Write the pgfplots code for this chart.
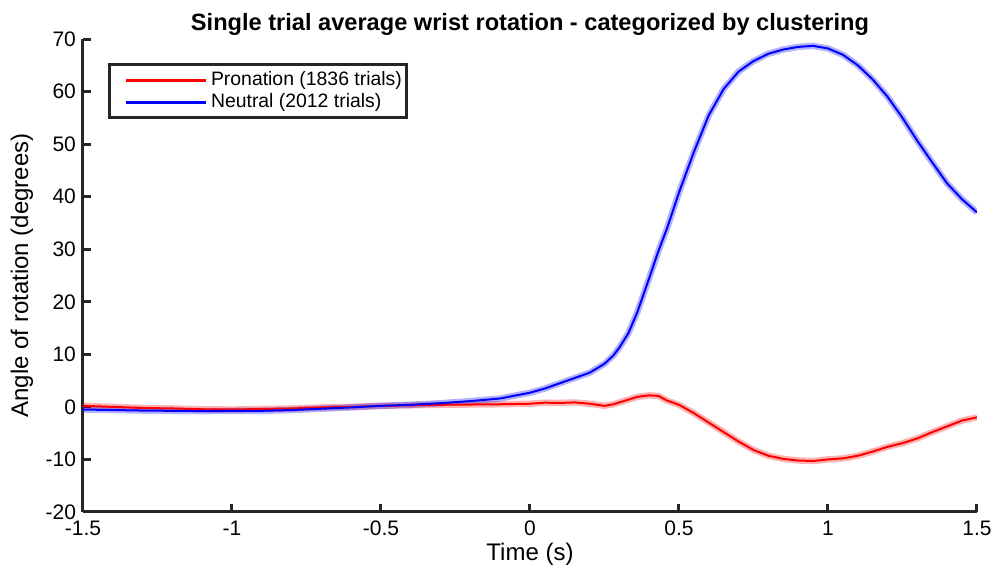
\documentclass[border=0pt]{standalone}
\usepackage{fontspec}
\setmainfont{Liberation Sans}
\usepackage{pgfplots}
\pgfplotsset{compat=1.18}
\definecolor{axcol}{HTML}{262626}
\definecolor{pron}{HTML}{FF0000}
\definecolor{neut}{HTML}{0000FF}

\pgfplotstableread{
x y
-1.5 -0.5
-1.3 -0.7
-1.1 -0.8
-0.9 -0.75
-0.8 -0.6
-0.7 -0.35
-0.6 -0.1
-0.5 0.2
-0.4 0.4
-0.3 0.7
-0.2 1.1
-0.1 1.6
0.0 2.7
0.05 3.5
0.1 4.5
0.15 5.5
0.2 6.5
0.25 8.2
0.28 9.8
0.3 11.3
0.33 14
0.36 18
0.4 24.5
0.43 29.5
0.46 34
0.5 40.8
0.55 48.5
0.6 55.5
0.65 60.5
0.7 63.8
0.75 65.8
0.8 67.2
0.85 68
0.9 68.5
0.95 68.7
1.0 68.2
1.05 67
1.1 65
1.15 62.3
1.2 59
1.25 55
1.3 50.6
1.35 46.5
1.4 42.5
1.45 39.5
1.5 37
}\neutral

\pgfplotstableread{
x y
-1.5 0.2
-1.4 0.0
-1.3 -0.2
-1.2 -0.3
-1.1 -0.45
-1.0 -0.5
-0.9 -0.4
-0.8 -0.3
-0.7 -0.1
-0.6 0.0
-0.5 0.2
-0.4 0.3
-0.3 0.4
-0.2 0.45
-0.1 0.5
0.0 0.6
0.05 0.8
0.1 0.75
0.15 0.85
0.2 0.6
0.25 0.2
0.28 0.5
0.32 1.2
0.36 1.9
0.4 2.2
0.43 2.1
0.46 1.2
0.5 0.4
0.55 -1.2
0.6 -3.0
0.65 -4.8
0.7 -6.6
0.75 -8.2
0.8 -9.3
0.85 -9.9
0.9 -10.2
0.95 -10.3
1.0 -10.0
1.05 -9.8
1.1 -9.3
1.15 -8.5
1.2 -7.6
1.25 -6.9
1.3 -6.0
1.35 -4.8
1.4 -3.7
1.45 -2.6
1.5 -2.0
}\pronation

\begin{document}
\begin{tikzpicture}
\path[use as bounding box] (-41.5pt,-27.5pt) rectangle (455pt,256pt);
\begin{axis}[
  at={(0pt,0pt)}, anchor=south west,
  scale only axis,
  width=447pt, height=236.5pt,
  xmin=-1.5, xmax=1.5,
  ymin=-20, ymax=70,
  xtick={-1.5,-1,-0.5,0,0.5,1,1.5},
  ytick={-20,-10,...,70},
  axis x line*=bottom,
  axis y line*=left,
  axis line style={axcol, line width=1.5pt, -},
  tick style={axcol, line width=1.5pt},
  major tick length=4pt,
  tick align=inside,
  /pgf/number format/assume math mode=true,
  tick label style={font=\fontsize{10.5}{12}\selectfont, text=black},
  xticklabel style={yshift=-1pt},
  xlabel={Time (s)},
  ylabel={Angle of rotation (degrees)},
  label style={font=\fontsize{12}{14}\selectfont},
  xlabel style={at={(axis description cs:0.5,-0.0888)}, anchor=center},
  ylabel style={at={(axis description cs:-0.0682,0.5)}, anchor=center},
  title={\bfseries Single trial average wrist rotation - categorized by clustering},
  title style={font=\fontsize{11.8}{14}\selectfont, at={(axis description cs:0.5,0.992)}, anchor=base},
  legend style={at={(0.028,0.949)}, anchor=north west, draw=axcol,
    line width=1.5pt, font=\fontsize{9.7}{11}\selectfont,
    row sep=-1.5pt, inner xsep=0.5pt, inner ysep=1.5pt},
  legend cell align=left,
  legend image code/.code={\path (0pt,0pt);
    \draw[#1, line width=1.5pt] (7pt,0pt) -- (47pt,0pt);},
  clip=true,
]
  \addplot[pron, line width=3.2pt, opacity=0.3, forget plot] table {\pronation};
  \addplot[neut, line width=3.2pt, opacity=0.3, forget plot] table {\neutral};
  \addplot[pron, line width=1pt] table {\pronation};
  \addplot[neut, line width=1pt] table {\neutral};
  \legend{Pronation (1836 trials), Neutral (2012 trials)}
\end{axis}
\end{tikzpicture}
\end{document}
